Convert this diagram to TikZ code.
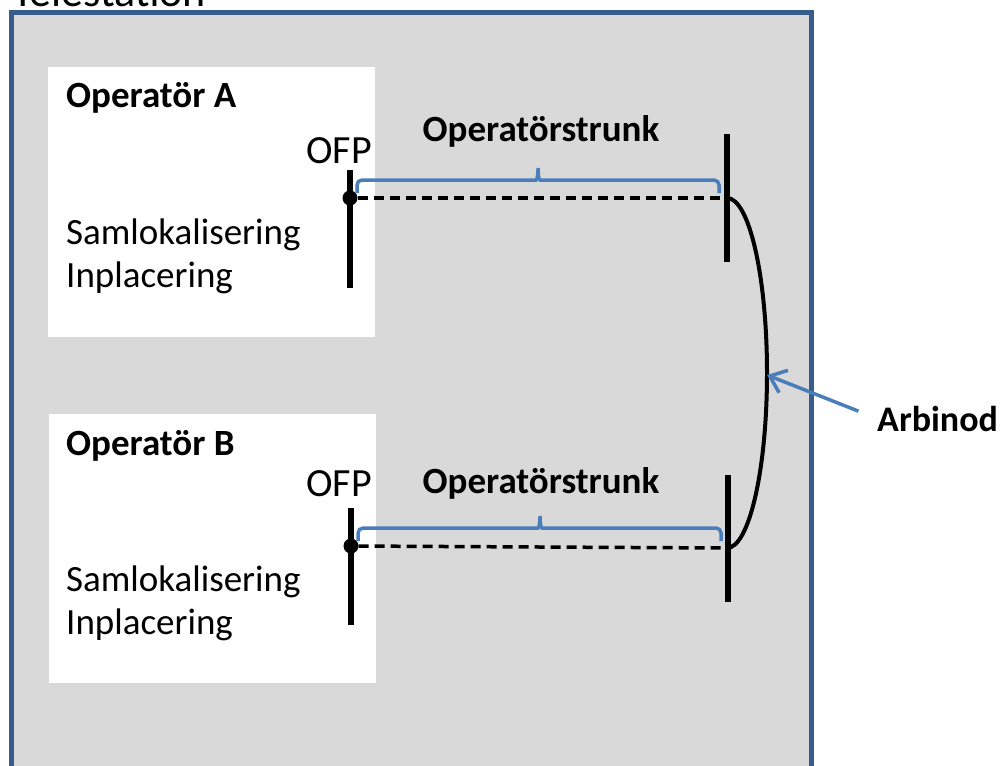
\documentclass[tikz,border=0pt]{standalone}
\usepackage{fontspec}
\setmainfont{Carlito}
\usetikzlibrary{arrows.meta}

\definecolor{ramblue}{RGB}{56,93,138}
\definecolor{braceblue}{RGB}{74,126,187}
\definecolor{stationgray}{RGB}{217,217,217}

\begin{document}
\begin{tikzpicture}[x=1pt,y=-1pt,
	txt/.style={anchor=base west,inner sep=0pt,font=\fontsize{37}{44}\selectfont},
	txtbold/.style={txt,font=\fontsize{37}{44}\selectfont\bfseries},
	ofp/.style={txt,font=\fontsize{40}{48}\selectfont},
	bar/.style={line width=6pt},
	dot/.style={circle,fill,inner sep=0pt,minimum size=15pt},
	trunk/.style={line width=3.5pt,dash pattern=on 10pt off 6pt},
	brace/.style={draw=braceblue,line width=3.5pt,rounded corners=5pt},
	pointer/.style={draw=braceblue,line width=3.5pt,-{Straight Barb[length=15pt,width=24pt]}}]

\useasboundingbox (0,0) rectangle (1003,765);

%Telestation
\draw [line width=5pt,draw=ramblue,fill=stationgray] (11,13) rectangle (811,800);
\node [txt,font=\fontsize{44}{52}\selectfont] (titel) at (12,7) {Telestation};

%Operator A
\fill [white] (48,67) rectangle (375,337);
\node [txtbold] (opA) at (66,108) {Operatör A};
\node [txt] (samA) at (66,244) {Samlokalisering};
\node [txt] (inpA) at (66,287) {Inplacering};
\node [ofp] (ofpA) at (306,163) {OFP};
\draw [bar] (350,170) -- (350,288);
\draw [bar] (727,134) -- (727,262);
\node [dot] (dotA) at (350,198) {};
\coordinate (endA) at (727,198);
\draw [trunk] (dotA) -- (endA);
\draw [brace] (357,193) -- (357,180) -- (531,180) to[out=0,in=-90] (538,165)
	to[out=-90,in=180] (545,180) -- (719,180) -- (719,193);
\node [txtbold,anchor=base] (trunkA) at (541,142) {Operatörstrunk};

%Operator B
\fill [white] (49,414) rectangle (376,683);
\node [txtbold] (opB) at (66,455) {Operatör B};
\node [txt] (samB) at (66,591) {Samlokalisering};
\node [txt] (inpB) at (66,634) {Inplacering};
\node [ofp] (ofpB) at (306,496) {OFP};
\draw [bar] (351,508) -- (351,625);
\draw [bar] (728,475) -- (728,602);
\node [dot] (dotB) at (351,546) {};
\coordinate (endB) at (728,548);
\draw [trunk] (dotB) -- (endB);
\draw [brace] (358,541) -- (358,528) -- (533,528) to[out=0,in=-90] (540,513)
	to[out=-90,in=180] (547,528) -- (721,528) -- (721,541);
\node [txtbold,anchor=base] (trunkB) at (541,493) {Operatörstrunk};

%Arbinod
\draw [line width=4pt] (endA) arc [start angle=-90,end angle=90,x radius=40,y radius=175];
\coordinate (arcmid) at (767,375);
\node [txtbold,font=\fontsize{36}{43}\selectfont\bfseries] (arbinod) at (877,431) {Arbinod};
\draw [pointer,shorten <=20pt] (arbinod.west) -- (arcmid);
\end{tikzpicture}
\end{document}
